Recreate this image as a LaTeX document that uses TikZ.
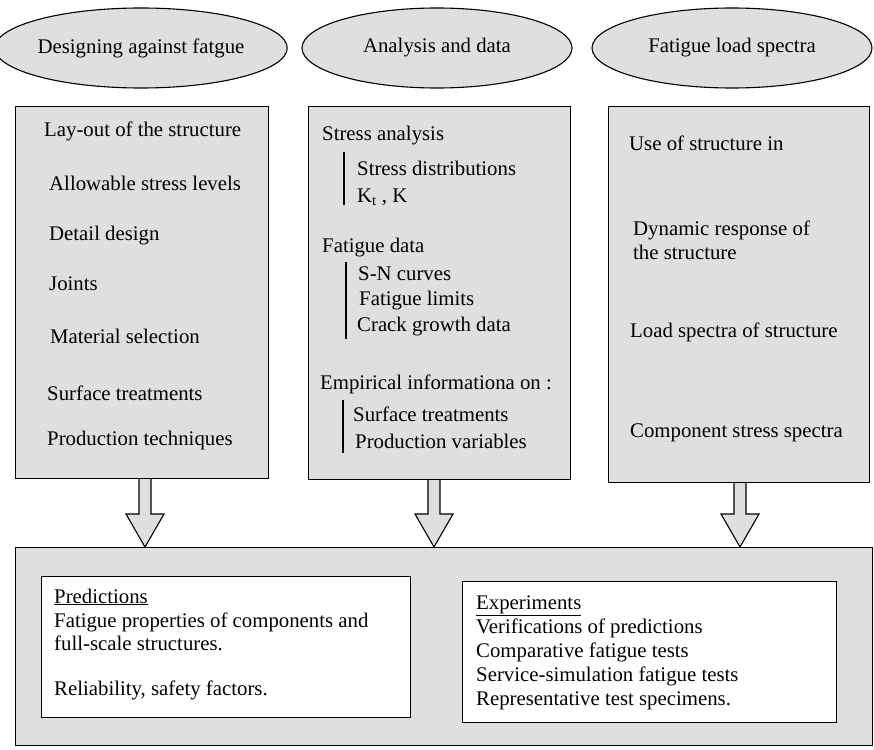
\documentclass[tikz,border=0pt]{standalone}
\usepackage{fontspec}
\setmainfont{Liberation Serif}
\usetikzlibrary{shapes.geometric,calc}
\definecolor{boxgray}{RGB}{223,223,223}
\begin{document}
\begin{tikzpicture}[x=1pt,y=-1pt,
  every node/.style={font=\fontsize{20.8}{24}\selectfont},
  oval/.style={ellipse, draw, fill=boxgray, line width=1.1pt, inner sep=0},
  graybox/.style={draw, fill=boxgray, line width=1.1pt, anchor=north west, inner sep=0},
  whitebox/.style={draw, fill=white, line width=1.1pt, anchor=north west, inner sep=0},
  txt/.style={anchor=base west, inner sep=0},
  blockarrow/.style={draw, fill=boxgray, line width=1.1pt, line join=miter},
  bar/.style={line width=1.2pt}]
\useasboundingbox (0,0) rectangle (874,749);
\fill[white] (0,0) rectangle (874,749);

% ellipses
\node[oval, minimum width=275, minimum height=80] (e1) at (141,48) {Designing against fatgue};
\node[oval, minimum width=270, minimum height=80] (e2) at (437,48) {Analysis and data};
\node[oval, minimum width=280, minimum height=80] (e3) at (732,48) {Fatigue load spectra};

% column boxes
\node[graybox, minimum width=253, minimum height=372] (b1) at (15,106) {};
\node[graybox, minimum width=262, minimum height=373] (b2) at (308,106) {};
\node[graybox, minimum width=261, minimum height=376] (b3) at (608,106) {};

% bottom boxes
\node[graybox, minimum width=857, minimum height=198] (B) at (15,547) {};
\node[whitebox, minimum width=369, minimum height=141] (P) at (41,576) {};
\node[whitebox, minimum width=374, minimum height=141] (E) at (462,581) {};

% block arrows
\coordinate (a1) at (145,0);
\coordinate (a2) at (434,0);
\coordinate (a3) at (740,0);
\foreach \a/\b in {a1/b1,a2/b2,a3/b3}{
  \draw[blockarrow] ($(\a|-\b.south)+(-6,0)$) -- ($(\a|-B.north)+(-6,-33)$)
    -- ($(\a|-B.north)+(-19,-33)$) -- (\a|-B.north) -- ($(\a|-B.north)+(19,-33)$)
    -- ($(\a|-B.north)+(6,-33)$) -- ($(\a|-\b.south)+(6,0)$);
}

% box 1 texts
\node[txt] (t11) at (44,136) {Lay-out of the structure};
\node[txt] (t12) at (49,190) {Allowable stress levels};
\node[txt] (t13) at (49,240) {Detail design};
\node[txt] (t14) at (49,290) {Joints};
\node[txt] (t15) at (50,343) {Material selection};
\node[txt] (t16) at (47,400) {Surface treatments};
\node[txt] (t17) at (47,445) {Production techniques};

% box 2 texts
\node[txt] (t21) at (322,140) {Stress analysis};
\node[txt] (t22) at (357,175) {Stress distributions};
\node[txt] (t23) at (357,202) {K\textsubscript{t} , K};
\node[txt] (t24) at (322,252) {Fatigue data};
\node[txt] (t25) at (358,280) {S-N curves};
\node[txt] (t26) at (359,305) {Fatigue limits};
\node[txt] (t27) at (357,331) {Crack growth data};
\node[txt] (t28) at (320,389) {Empirical informationa on :};
\node[txt] (t29) at (353,421) {Surface treatments};
\node[txt] (t2a) at (355,448) {Production variables};
\draw[bar] (344,152) -- (344,205);
\draw[bar] (346,262) -- (346,339);
\draw[bar] (343,400) -- (343,453);

% box 3 texts
\node[txt] (t31) at (629,150) {Use of structure in};
\node[txt] (t32) at (633,235) {Dynamic response of};
\node[txt] (t33) at (633,259) {the structure};
\node[txt] (t34) at (630,337) {Load spectra of structure};
\node[txt] (t35) at (630,437) {Component stress spectra};

% predictions
\node[txt] (p1) at (54,603) {\underline{Predictions}};
\node[txt] (p2) at (54,627) {Fatigue properties of components and};
\node[txt] (p3) at (54,650) {full-scale structures.};
\node[txt] (p4) at (54,695) {Reliability, safety factors.};

% experiments
\node[txt] (x1) at (476,609) {\underline{Experiments}};
\node[txt] (x2) at (476,633) {Verifications of predictions};
\node[txt] (x3) at (476,657) {Comparative fatigue tests};
\node[txt] (x4) at (476,681) {Service-simulation fatigue tests};
\node[txt] (x5) at (476,705) {Representative test specimens.};
\end{tikzpicture}
\end{document}
